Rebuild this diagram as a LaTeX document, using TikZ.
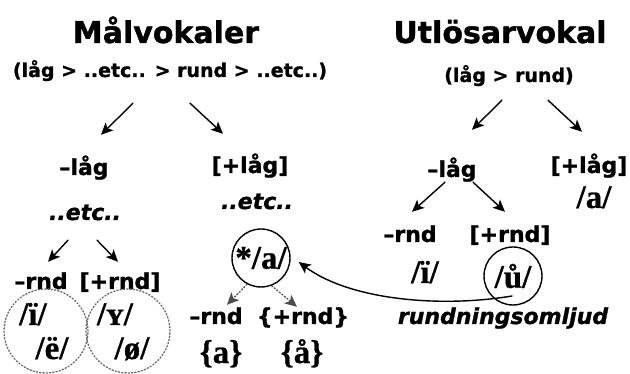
\documentclass[tikz,border=0pt]{standalone}
\usepackage{fontspec}
\setmainfont{Liberation Serif}[BoldFeatures={FakeBold=0.8}]
\setsansfont{DejaVu Sans}[BoldFeatures={FakeBold=1.2},BoldItalicFeatures={FakeBold=1.2}]
\usetikzlibrary{arrows.meta}
\tikzset{
  titel/.style={font=\sffamily\bfseries\fontsize{30}{36}\selectfont,anchor=base,inner sep=0},
  under/.style={font=\sffamily\bfseries\fontsize{19}{23}\selectfont,anchor=base,inner sep=0,text height=14pt,text depth=4pt},
  drag/.style={font=\sffamily\bfseries\fontsize{22}{26}\selectfont,anchor=base,inner sep=0,text height=16pt,text depth=5pt},
  etc/.style={drag,font=\sffamily\bfseries\itshape\fontsize{22}{26}\selectfont},
  fonfont/.style={font=\bfseries\fontsize{33}{39}\selectfont},
  fon/.style={fonfont,anchor=base,inner sep=0},
  ring/.style={circle,draw,line width=1.4pt,minimum size=58pt,inner sep=0},
  prickring/.style={circle,draw=black!60,dotted,line width=1.3pt,minimum size=84pt,inner sep=0},
  pil/.style={->,line width=1.4pt},
  prickpil/.style={->,dotted,line width=1.3pt,draw=black!70},
}
\begin{document}
\begin{tikzpicture}[line cap=round,line join=round,>={Stealth[length=12pt,width=11pt,inset=3pt]},x=1pt,y=-1pt]
\useasboundingbox (0,0) rectangle (630,374);
% maalvokaler
\node[titel] (malTitel) at (166,43) {Målvokaler};
\node[under] (subL) at (170,77) {(låg > ..etc.. > rund > ..etc..)};
\node[drag] (lowL) at (84,175) {–låg};
\node[drag] (highL) at (250,173) {[+låg]};
\node[etc] (etcL) at (85,220) {..etc..};
\node[etc] (etcM) at (257,209) {..etc..};
\node[drag] (rndL) at (41,289) {–rnd};
\node[drag] (prndL) at (120,289) {[+rnd]};
\node[prickring] (ringI) at (46,331) {};
\node[prickring] (ringY) at (128,331) {};
\node[fon] (iL) at (33,325) {/ï/};
\node[fon] (eL) at (52,359) {/ë/};
\node[fon] (yL) at (115,325) {/ʏ/};
\node[fon] (oeL) at (132,359) {/ø/};
\node[ring,fonfont] (astA) at (261,258) {*/a/};
\node[drag] (rndM) at (216,324) {–rnd};
\node[drag] (prndM) at (303,324) {\{+rnd\}};
\node[fon] (aM) at (221,363) {\{a\}};
\node[fon] (aaM) at (302,363) {\{å\}};
% utloesarvokal
\node[titel] (utlTitel) at (500,43) {Utlösarvokal};
\node[under] (subR) at (509,82) {(låg > rund)};
\node[drag] (lowR) at (452,177) {–låg};
\node[drag] (highR) at (589,173) {[+låg]};
\node[fon] (aR) at (594,208) {/a/};
\node[drag] (rndR) at (410,242) {–rnd};
\node[drag] (prndR) at (510,242) {[+rnd]};
\node[fon] (iR) at (425,283) {/ï/};
\node[ring,fonfont] (uCirc) at (513,276) {/ů/};
\node[etc] (omljud) at (503,324) {rundningsomljud};
% pilar
\draw[pil] ([shift={(-37,22)}]subL.south) -- ([shift={(17,-24)}]lowL.north);
\draw[pil] ([shift={(20,22)}]subL.south) -- ([shift={(-27,-23)}]highL.north);
\draw[pil] ([shift={(-17,15)}]etcL.south) -- ([shift={(7,-11)}]rndL.north);
\draw[pil] ([shift={(12,15)}]etcL.south) -- ([shift={(-2,-11)}]prndL.north);
\draw[prickpil] (astA.242) -- ([shift={(11,-3)}]rndM.north);
\draw[prickpil] (astA.291) -- ([shift={(-6,-1)}]prndM.north);
\draw[pil] ([shift={(-7,14)}]subR.south) -- ([shift={(20,-31)}]lowR.north);
\draw[pil] ([shift={(39,14)}]subR.south) -- ([shift={(-7,-25)}]highR.north);
\draw[pil] ([shift={(-7,0)}]lowR.south) -- ([shift={(2,-14)}]rndR.north);
\draw[pil] ([shift={(21,0)}]lowR.south) -- ([shift={(-5,-14)}]prndR.north);
\draw[pil] ([shift={(-1,20)}]uCirc.center) .. controls (440,308) and (350,300) .. ([shift={(8,4)}]astA.east);
\end{tikzpicture}
\end{document}
